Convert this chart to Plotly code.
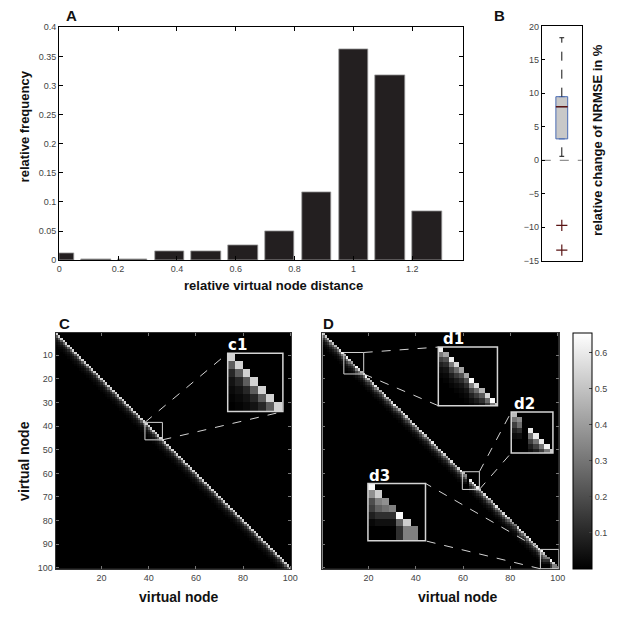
import plotly.graph_objects as go
import numpy as np

W, H = 622, 617

# ---------------- Panel A data ----------------
bin_centers = [0.0, 0.125, 0.25, 0.375, 0.5, 0.625, 0.75, 0.875, 1.0, 1.125, 1.25]
rel_freq = [0.012, 0.002, 0.002, 0.015, 0.015, 0.026, 0.049, 0.116, 0.363, 0.317, 0.083]
a_xticks = [0, 0.2, 0.4, 0.6, 0.8, 1.0, 1.2]
a_xticklabels = ["0", "0.2", "0.4", "0.6", "0.8", "1", "1.2"]
a_yticks = [0, 0.05, 0.1, 0.15, 0.2, 0.25, 0.3, 0.35, 0.4]
a_yticklabels = ["0", "0.05", "0.1", "0.15", "0.2", "0.25", "0.3", "0.35", "0.4"]

# ---------------- Panel B data ----------------
b_q1 = 3.2
b_median = 8.0
b_q3 = 9.5
b_lower_whisker = 0.6
b_upper_whisker = 18.3
b_outliers = [-9.7, -13.4]
b_yticks = [-15, -10, -5, 0, 5, 10, 15, 20]

# ---------------- Panel C / D data ----------------
n_nodes = 100
c_xticks = [20, 40, 60, 80, 100]
c_yticks = [10, 20, 30, 40, 50, 60, 70, 80, 90, 100]
cb_ticks = [0.1, 0.2, 0.3, 0.4, 0.5, 0.6]
z_max = 0.655

# band values below the diagonal (offset 0,1,2,...) for C
kernel_C = [0.54, 0.24, 0.10, 0.05, 0.025, 0.01]
# relative band profile for D, scaled by each node's diagonal value
kernel_D = [1.0, 0.5, 0.27, 0.13, 0.06, 0.025]
gain_D = [0.50, 0.52, 0.48, 0.55, 0.50, 0.46, 0.52, 0.56,
          0.62, 0.42, 0.62, 0.55, 0.42, 0.42, 0.65, 0.56, 0.46, 0.55, 0.65,
          0.50, 0.47, 0.55, 0.60, 0.48, 0.45, 0.52, 0.58, 0.50, 0.46, 0.55,
          0.62, 0.50, 0.44, 0.52, 0.60, 0.55, 0.47, 0.50, 0.58, 0.52,
          0.46, 0.55, 0.62, 0.50, 0.45, 0.52, 0.60, 0.55, 0.48, 0.50,
          0.62, 0.53, 0.46, 0.52, 0.58, 0.50, 0.47, 0.55, 0.60,
          0.0, 0.0, 0.0,
          0.60, 0.60, 0.60, 0.62,
          0.52, 0.48, 0.55, 0.62, 0.50, 0.46, 0.55, 0.60, 0.52, 0.47,
          0.55, 0.63, 0.50, 0.45, 0.40, 0.30, 0.55, 0.60, 0.52, 0.48,
          0.56, 0.62, 0.50, 0.47, 0.55, 0.60,
          0.0, 0.0, 0.0, 0.0, 0.0, 0.0, 0.0, 0.0]
# irregular cells of D (row node, column node, value)
cells_D = [(60, 60, .48), (61, 60, .30), (62, 60, .16), (63, 60, .08), (64, 60, .03),
           (61, 61, .36), (62, 61, .28), (63, 61, .12), (64, 61, .04),
           (93, 93, .64),
           (94, 93, .37), (94, 94, .53),
           (95, 93, .20), (95, 94, .33), (95, 95, .37),
           (96, 93, .16), (96, 94, .25), (96, 95, .29), (96, 96, .33),
           (97, 93, .08), (97, 94, .12), (97, 95, .12), (97, 96, .12), (97, 97, .64),
           (98, 93, .02), (98, 94, .04), (98, 95, .04), (98, 96, .04), (98, 97, .25), (98, 98, .53),
           (99, 97, .12), (99, 98, .33), (99, 99, .33),
           (100, 97, .12), (100, 98, .33), (100, 99, .33)]

nodes = list(range(1, n_nodes + 1))
ZC = np.zeros((n_nodes, n_nodes))
ZD = np.zeros((n_nodes, n_nodes))
for j in range(n_nodes):
    for k in range(len(kernel_C)):
        if j + k < n_nodes:
            ZC[j + k, j] = kernel_C[k]
            ZD[j + k, j] = gain_D[j] * kernel_D[k]
for r, c, v in cells_D:
    ZD[r - 1, c - 1] = v

# ---------------- layout geometry (pixels) ----------------
def dom_x(x0, x1):
    return [x0 / W, x1 / W]

def dom_y(top, bottom):
    return [1 - bottom / H, 1 - top / H]

A_X, A_Y = dom_x(57, 466.7), dom_y(22.7, 259.3)
B_X, B_Y = dom_x(546.7, 587.3), dom_y(21.7, 260)
C_X, C_Y = dom_x(53.3, 292.7), dom_y(333.3, 573.3)
D_X, D_Y = dom_x(324, 564), dom_y(333.3, 573.3)

insets = [
    dict(name="c1", parent="C", px=(228, 284), py=(354, 413.3), rng=(38.6, 45.6),
         bx=(38.4, 45.8), by=(38.4, 45.8), lab=(226, 357),
         links=[(("l", "t"), ("l", "t")), (("r", "b"), ("r", "b"))]),
    dict(name="d1", parent="D", px=(441.7, 501.7), py=(347.7, 407.3), rng=(8.5, 20.0),
         bx=(9.6, 18.0), by=(8.8, 17.9), lab=(444, 350.5),
         links=[(("r", "t"), ("l", "t")), (("r", "b"), ("l", "b"))]),
    dict(name="d2", parent="D", px=(515.7, 558), py=(413.7, 455.3), rng=(59.5, 67.1),
         bx=(59.7, 66.9), by=(59.3, 66.8), lab=(516, 417),
         links=[(("r", "t"), ("l", "t")), (("r", "b"), ("l", "b"))]),
    dict(name="d3", parent="D", px=(370.3, 428.7), py=(486.3, 544.7), rng=(92.5, 100.5),
         bx=(92.7, 100.5), by=(92.2, 100.4), lab=(369, 490),
         links=[(("l", "t"), ("r", "t")), (("l", "b"), ("r", "b"))]),
]

fig = go.Figure()

# ---- Panel A ----
fig.add_trace(go.Bar(x=bin_centers, y=rel_freq, width=0.1,
                     marker=dict(color="#231f20", line=dict(color="#9a9a9a", width=0.8)),
                     xaxis="x", yaxis="y", showlegend=False))

# ---- Panel B ----
bw = 0.59
fig.add_trace(go.Scatter(x=[-1, 1], y=[0, 0], mode="lines",
                         line=dict(color="#777777", width=1, dash="dash"),
                         xaxis="x2", yaxis="y2", showlegend=False))
fig.add_trace(go.Scatter(x=[0, 0], y=[b_q3, b_upper_whisker], mode="lines",
                         line=dict(color="#111111", width=1, dash="dash"),
                         xaxis="x2", yaxis="y2", showlegend=False))
fig.add_trace(go.Scatter(x=[0, 0], y=[b_lower_whisker, b_q1], mode="lines",
                         line=dict(color="#111111", width=1, dash="dash"),
                         xaxis="x2", yaxis="y2", showlegend=False))
for yw in [b_upper_whisker, b_lower_whisker]:
    fig.add_trace(go.Scatter(x=[-0.12, 0.12], y=[yw, yw], mode="lines",
                             line=dict(color="#111111", width=1),
                             xaxis="x2", yaxis="y2", showlegend=False))
fig.add_trace(go.Box(x=[0], q1=[b_q1], median=[b_median], q3=[b_q3],
                     lowerfence=[b_q1], upperfence=[b_q3], width=bw,
                     fillcolor="#c8c8c8", line=dict(color="#4a6cb3", width=1),
                     boxpoints=False, xaxis="x2", yaxis="y2", showlegend=False))
fig.add_trace(go.Scatter(x=[-bw / 2, bw / 2], y=[b_median, b_median], mode="lines",
                         line=dict(color="#5a1414", width=1.5),
                         xaxis="x2", yaxis="y2", showlegend=False))
fig.add_trace(go.Scatter(x=[0] * len(b_outliers), y=b_outliers, mode="markers",
                         marker=dict(symbol="cross-thin", size=8,
                                     line=dict(color="#5a1414", width=1.2)),
                         xaxis="x2", yaxis="y2", showlegend=False))

# ---- Panels C and D ----
gray = [[0, "black"], [1, "white"]]
fig.add_trace(go.Heatmap(z=ZC, x=nodes, y=nodes, colorscale=gray, zmin=0, zmax=z_max,
                         showscale=False, xaxis="x3", yaxis="y3"))
fig.add_trace(go.Heatmap(z=ZD, x=nodes, y=nodes, colorscale=gray, zmin=0, zmax=z_max,
                         xaxis="x4", yaxis="y4",
                         colorbar=dict(x=578.3 / W, xanchor="left", xref="paper",
                                       y=1 - 453.3 / H, yanchor="middle", yref="paper",
                                       len=240 / H, lenmode="fraction", thickness=19,
                                       xpad=0, ypad=0, outlinewidth=1, outlinecolor="black",
                                       tickvals=cb_ticks, ticks="inside", ticklen=3,
                                       tickcolor="#444",
                                       tickfont=dict(size=9, color="#444",
                                                     family="Liberation Sans"))))

# ---- insets ----
for i, ins in enumerate(insets):
    k = 5 + i
    Z = ZC if ins["parent"] == "C" else ZD
    fig.add_trace(go.Heatmap(z=Z, x=nodes, y=nodes, colorscale=gray, zmin=0, zmax=z_max,
                             showscale=False, xaxis=f"x{k}", yaxis=f"y{k}"))

tickfont = dict(size=9, color="#444", family="Liberation Sans")
common = dict(showgrid=False, zeroline=False, showline=True, mirror="ticks",
              linecolor="black", linewidth=1, ticks="inside", ticklen=4,
              tickcolor="black", tickfont=tickfont)
heat_ax = dict(showgrid=False, zeroline=False, showline=True, mirror="ticks",
               linecolor="#333", linewidth=1, ticks="inside", ticklen=3,
               tickcolor="#777", tickfont=tickfont)

layout = dict(
    width=W, height=H, margin=dict(l=0, r=0, t=0, b=0),
    paper_bgcolor="white", plot_bgcolor="white", showlegend=False,
    bargap=0,
    xaxis=dict(domain=A_X, range=[0, 1.372], tickvals=a_xticks, ticktext=a_xticklabels,
               anchor="y", **common),
    yaxis=dict(domain=A_Y, range=[0, 0.4], tickvals=a_yticks, ticktext=a_yticklabels,
               anchor="x", **common),
    xaxis2=dict(domain=B_X, range=[-1, 1], showticklabels=False, ticks="",
                showgrid=False, zeroline=False, showline=True, mirror=True,
                linecolor="black", linewidth=1, anchor="y2"),
    yaxis2=dict(domain=B_Y, range=[-15, 20], tickvals=b_yticks, anchor="x2",
                showgrid=False, zeroline=False, showline=True, mirror=True,
                linecolor="black", linewidth=1, ticks="inside", ticklen=3,
                tickcolor="black", tickfont=tickfont),
    xaxis3=dict(domain=C_X, range=[0.5, 100.5], tickvals=c_xticks, anchor="y3", **heat_ax),
    yaxis3=dict(domain=C_Y, range=[100.5, 0.5], tickvals=c_yticks, anchor="x3", **heat_ax),
    xaxis4=dict(domain=D_X, range=[0.5, 100.5], tickvals=c_xticks, anchor="y4", **heat_ax),
    yaxis4=dict(domain=D_Y, range=[100.5, 0.5], tickvals=c_yticks, showticklabels=False,
                anchor="x4", **heat_ax),
)

def to_paper(parent, vx, vy):
    dx = C_X if parent == "C" else D_X
    dy = C_Y if parent == "C" else D_Y
    fx = dx[0] + (vx - 0.5) / 100.0 * (dx[1] - dx[0])
    fy = dy[0] + (vy - 100.5) / (0.5 - 100.5) * (dy[1] - dy[0])
    return fx, fy

shapes = []
annotations = []
for i, ins in enumerate(insets):
    k = 5 + i
    ix, iy = dom_x(*ins["px"]), dom_y(*ins["py"])
    r0, r1 = ins["rng"]
    layout[f"xaxis{k}"] = dict(domain=ix, range=[r0, r1], showgrid=False, zeroline=False,
                               showticklabels=False, ticks="", showline=False, anchor=f"y{k}")
    layout[f"yaxis{k}"] = dict(domain=iy, range=[r1, r0], showgrid=False, zeroline=False,
                               showticklabels=False, ticks="", showline=False, anchor=f"x{k}")
    shapes.append(dict(type="rect", xref="paper", yref="paper", x0=ix[0], x1=ix[1],
                       y0=iy[0], y1=iy[1], line=dict(color="#d4d4d4", width=1.5)))
    ax = "x3" if ins["parent"] == "C" else "x4"
    ay = "y3" if ins["parent"] == "C" else "y4"
    shapes.append(dict(type="rect", xref=ax, yref=ay, x0=ins["bx"][0], x1=ins["bx"][1],
                       y0=ins["by"][0], y1=ins["by"][1], line=dict(color="#d4d4d4", width=1)))
    for (bc, ic) in ins["links"]:
        bxv = ins["bx"][0] if bc[0] == "l" else ins["bx"][1]
        byv = ins["by"][0] if bc[1] == "t" else ins["by"][1]
        p0 = to_paper(ins["parent"], bxv, byv)
        p1 = (ix[0] if ic[0] == "l" else ix[1], iy[1] if ic[1] == "t" else iy[0])
        shapes.append(dict(type="line", xref="paper", yref="paper", x0=p0[0], y0=p0[1],
                           x1=p1[0], y1=p1[1],
                           line=dict(color="#d4d4d4", width=1, dash="dash")))
    annotations.append(dict(text=f"<b>{ins['name']}</b>", xref="paper", yref="paper",
                            x=ins["lab"][0] / W, y=1 - ins["lab"][1] / H,
                            xanchor="left", yanchor="bottom", showarrow=False,
                            font=dict(size=15, color="white", family="DejaVu Sans")))

def ann(text, x, y, size=12, angle=0, family="Liberation Sans", color="#111"):
    annotations.append(dict(text=f"<b>{text}</b>", xref="paper", yref="paper",
                            x=x / W, y=1 - y / H, xanchor="center", yanchor="middle",
                            showarrow=False, textangle=angle,
                            font=dict(size=size, color=color, family=family)))

ann("A", 70, 11, size=15)
ann("B", 504, 11, size=15)
ann("C", 62, 324, size=15)
ann("D", 330, 324, size=15)
ann("relative virtual node distance", 274, 285, size=13)
ann("relative frequency", 21.7, 123, size=13, angle=-90)
ann("relative change of NRMSE in %", 604, 137, size=13, angle=-90)
ann("virtual node", 179, 601.7, size=14)
ann("virtual node", 21.7, 463, size=14, angle=-90)
ann("virtual node", 461.7, 601.7, size=14)

layout["shapes"] = shapes
layout["annotations"] = annotations
fig.update_layout(**layout)

fig.write_html("out.html", config={"displayModeBar": False},
               post_script="document.body.style.margin='0px';document.body.style.overflow='hidden';")
